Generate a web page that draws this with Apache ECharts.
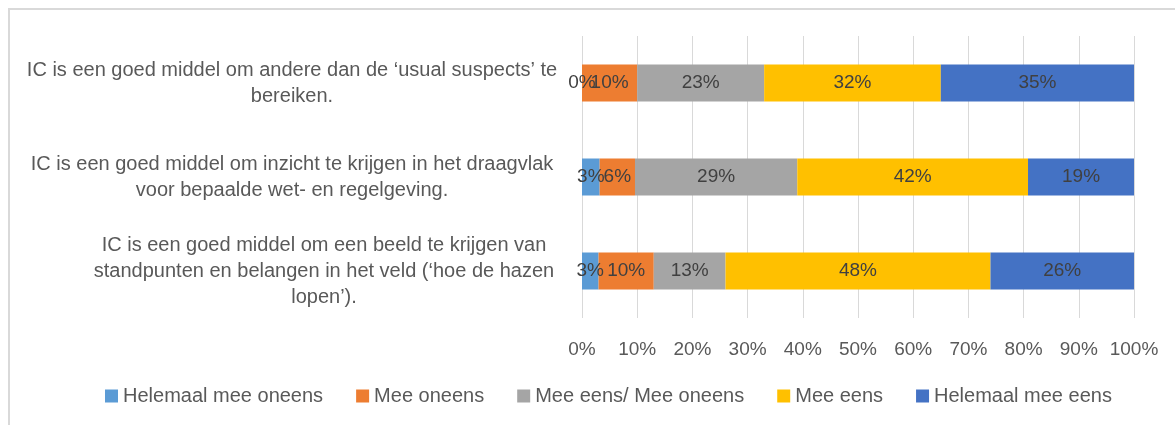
<!DOCTYPE html>
<html>
<head>
<meta charset="utf-8">
<script src="https://cdn.jsdelivr.net/npm/echarts@6/dist/echarts.min.js"></script>
<style>
  html, body { margin: 0; padding: 0; background: #fff; }
  #chart { width: 1175px; height: 425px; }
</style>
</head>
<body>
<div id="chart"></div>
<script>
// statements, top to bottom
const categories = [
    'IC is een goed middel om andere dan de ‘usual suspects’ te\nbereiken.',
    'IC is een goed middel om inzicht te krijgen in het draagvlak\nvoor bepaalde wet- en regelgeving.',
    'IC is een goed middel om een beeld te krijgen van\nstandpunten en belangen in het veld (‘hoe de hazen\nlopen’).'
];
const seriesNames = ['Helemaal mee oneens', 'Mee oneens', 'Mee eens/ Mee oneens', 'Mee eens', 'Helemaal mee eens'];
const helemaalOneens = [0, 3.2, 3];
const meeOneens = [10, 6.4, 10];
const neutraal = [23, 29.4, 13];
const meeEens = [32, 41.8, 48];
const helemaalEens = [35, 19.2, 26];
const colors = ['#5B9BD5', '#ED7D31', '#A5A5A5', '#FFC000', '#4472C4'];
const xTicks = [0, 10, 20, 30, 40, 50, 60, 70, 80, 90, 100];

const font = 'Liberation Sans';
const labelWidths = [530, 530, 466];

let myChart = echarts.init(document.getElementById('chart'));

let rich = {};
labelWidths.forEach((w, i) => {
    rich['w' + i] = { width: w, align: 'center', lineHeight: 26, fontSize: 20, color: '#595959', fontFamily: font };
});

let series = [helemaalOneens, meeOneens, neutraal, meeEens, helemaalEens].map((data, i) => ({
    name: seriesNames[i],
    type: 'bar',
    stack: 'total',
    barWidth: 37,
    data: data,
    itemStyle: { color: colors[i] },
    label: {
        show: true,
        position: 'inside',
        color: '#404040',
        fontSize: 19,
        fontFamily: font,
        formatter: p => Math.round(p.value) + '%'
    }
}));

let option = {
    animation: false,
    textStyle: { fontFamily: font },
    grid: { left: 582, right: 41, top: 36, bottom: 107 },
    legend: {
        data: seriesNames,
        bottom: 14,
        left: 100,
        itemWidth: 13,
        itemHeight: 13,
        itemGap: 33,
        icon: 'rect',
        textStyle: { color: '#595959', fontSize: 20, fontFamily: font }
    },
    xAxis: {
        type: 'value',
        min: 0,
        max: 100,
        interval: 10,
        axisLine: { show: false },
        axisTick: { show: false },
        splitLine: { lineStyle: { color: '#d9d9d9' } },
        axisLabel: {
            color: '#595959',
            fontSize: 19,
            margin: 22,
            formatter: v => xTicks.includes(v) ? v + '%' : ''
        }
    },
    yAxis: {
        type: 'category',
        data: categories,
        inverse: true,
        axisLine: { show: false },
        axisTick: { show: false },
        axisLabel: {
            align: 'right',
            margin: 25,
            formatter: (v, idx) => v.split('\n').map(l => '{w' + idx + '|' + l + '}').join('\n'),
            rich: rich
        }
    },
    graphic: [
        { type: 'line', shape: { x1: 8, y1: 9, x2: 1175, y2: 9 }, style: { stroke: '#d9d9d9', lineWidth: 2 } },
        { type: 'line', shape: { x1: 9, y1: 9, x2: 9, y2: 425 }, style: { stroke: '#d9d9d9', lineWidth: 2 } }
    ],
    series: series
};

myChart.setOption(option);
</script>
</body>
</html>
